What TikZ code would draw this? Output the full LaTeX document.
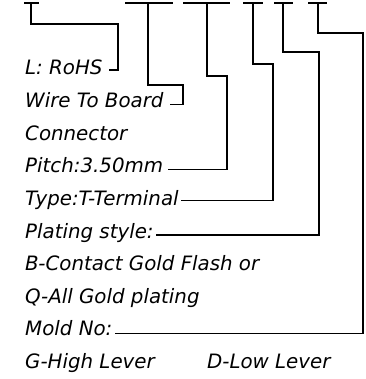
\documentclass[tikz,border=0pt]{standalone}
\usepackage{fontspec}
\setmainfont{DejaVu Sans}
\usetikzlibrary{calc}
\begin{document}
\begin{tikzpicture}[x=1pt,y=1pt,
	lbl/.style={anchor=base west,inner sep=0pt,font=\fontsize{19.8}{19.8}\selectfont\itshape},
	lead/.style={line width=1.3pt}]
	\useasboundingbox (0,0) rectangle (365,-379);
	% top bars
	\draw[lead] (24,-3) -- (39,-3);
	\draw[lead] (125,-3) -- (173,-3);
	\draw[lead] (183,-3) -- (230,-3);
	\draw[lead] (243,-3) -- (263,-3);
	\draw[lead] (274,-3) -- (293,-3);
	\draw[lead] (308,-3) -- (327,-3);
	\coordinate (t1) at (31,-3);
	\coordinate (t2) at (148,-3);
	\coordinate (t3) at (207,-3);
	\coordinate (t4) at (253,-3);
	\coordinate (t5) at (283,-3);
	\coordinate (t6) at (318,-3);
	
	% labels
	\node[lbl] (l1) at (25,-75) {L: RoHS};
	\node[lbl] (l2) at (25,-107.6) {Wire To Board};
	\node[lbl] (l3) at (25,-140.2) {Connector};
	\node[lbl] (l4) at (25,-172.8) {Pitch:3.50mm};
	\node[lbl] (l5) at (25,-205.4) {Type:T-Terminal};
	\node[lbl] (l6) at (25,-238) {Plating style:};
	\node[lbl] (l7) at (25,-270.6) {B-Contact Gold Flash or};
	\node[lbl] (l8) at (25,-303.2) {Q-All Gold plating};
	\node[lbl] (l9) at (25,-335.8) {Mold No:};
	\node[lbl] (l10) at (25,-368.4) {G-High Lever};
	\node[lbl] (l11) at (207,-368.4) {D-Low Lever};
	
	% leaders
	\draw[lead] (t1) |- (118,-24) |- ($(l1.base east)+(6,5)$);
	\draw[lead] (t2) |- (183,-85) |- ($(l2.base east)+(6,3)$);
	\draw[lead] (t3) |- (227,-76) |- ($(l4.base east)+(5,3)$);
	\draw[lead] (t4) |- (273,-64) |- ($(l5.base east)+(2,5)$);
	\draw[lead] (t5) |- (319,-52) |- ($(l6.base east)+(2,3)$);
	\draw[lead] (t6) |- (363,-33) |- ($(l9.base east)+(2,2)$);
\end{tikzpicture}
\end{document}
